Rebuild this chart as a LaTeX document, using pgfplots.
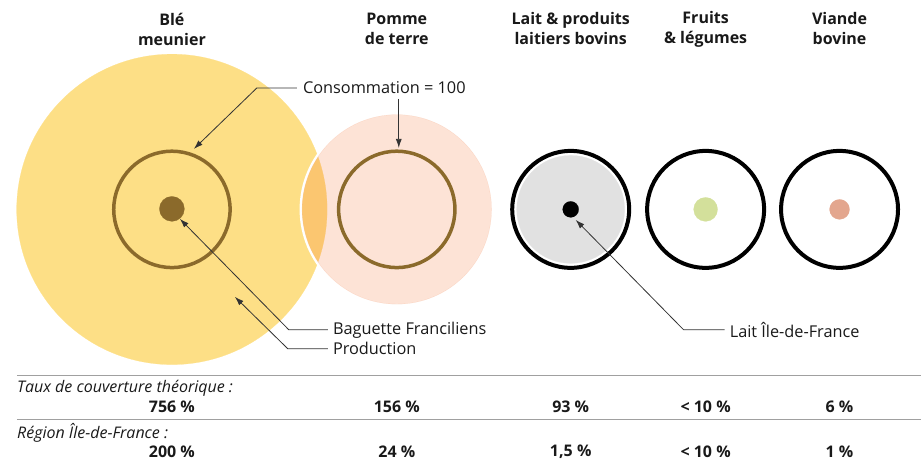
\documentclass[border=0pt]{standalone}
\usepackage{pgfplots}
\pgfplotsset{compat=1.18}
\usepackage{fontspec}
\setmainfont{Open Sans}
\usetikzlibrary{arrows.meta}
\definecolor{ble}{HTML}{FDDF86}
\definecolor{pdt}{HTML}{FDE3D6}
\definecolor{brun}{HTML}{8B6A2B}
\definecolor{vert}{HTML}{D3E09B}
\definecolor{saumon}{HTML}{E3A68E}
\definecolor{gris}{HTML}{E1E1E1}
\definecolor{filet}{HTML}{A0A0A0}
\definecolor{fleche}{HTML}{333333}
\begin{document}
\begin{tikzpicture}
\begin{axis}[
  x=1pt, y=1pt,
  xmin=0, xmax=921, ymin=0, ymax=461, y dir=reverse,
  hide axis, clip=false, set layers,
]
% invisible frame
\addplot[draw=none, mark=none] coordinates {(0,0) (921,461)};
% production discs
\addplot[only marks, mark=*, mark size=155.3, line width=0.2pt, mark options={fill=ble, draw=ble}] coordinates {(172,209.5)};
\addplot[only marks, mark=o, mark size=96, mark options={draw=white, line width=2.5pt}] coordinates {(397,209.5)};
\addplot[only marks, mark=*, mark size=94.8, line width=0.2pt, blend mode=multiply, mark options={fill=pdt, draw=pdt, blend mode=multiply}] coordinates {(397,209.5)};
\addplot[only marks, mark=*, mark size=54, line width=0.2pt, mark options={fill=gris, draw=gris}] coordinates {(571,209.5)};
% consumption = 100 rings
\addplot[only marks, mark=o, mark size=58.2, mark options={draw=brun, line width=3.5pt}] coordinates {(172,209.5) (397,209.5)};
\addplot[only marks, mark=o, mark size=58.5, mark options={draw=black, line width=4pt}] coordinates {(571,209.5) (706,209.5) (840,209.5)};
% Ile-de-France dots
\addplot[only marks, mark=*, mark size=12.5, line width=0.2pt, mark options={fill=brun, draw=brun}] coordinates {(172,209)};
\addplot[only marks, mark=*, mark size=8, line width=0.2pt, mark options={fill=black, draw=black}] coordinates {(571,209.5)};
\addplot[only marks, mark=*, mark size=12, line width=0.2pt, mark options={fill=vert, draw=vert}] coordinates {(706,209.5)};
\addplot[only marks, mark=*, mark size=10, line width=0.2pt, mark options={fill=saumon, draw=saumon}] coordinates {(840,209.5)};
% leader lines (on top of the discs)
\addplot[on layer=axis foreground, fleche, line width=0.8pt, -{Latex[length=9pt,width=6pt]}] coordinates {(297,88) (257,88) (194,149)};
\addplot[on layer=axis foreground, fleche, line width=0.8pt, -{Latex[length=9pt,width=6pt]}] coordinates {(399,99) (399,148)};
\addplot[on layer=axis foreground, fleche, line width=0.8pt, -{Latex[length=9pt,width=6pt]}] coordinates {(328,330) (289,330) (180,219)};
\addplot[on layer=axis foreground, fleche, line width=0.8pt, -{Latex[length=9pt,width=6pt]}] coordinates {(328,349) (288,349) (235,297)};
\addplot[on layer=axis foreground, fleche, line width=0.8pt, -{Latex[length=9pt,width=6pt]}] coordinates {(725,330) (684,330) (576,220)};
% table rules
\addplot[filet, line width=1pt] coordinates {(17,376) (921,376)};
\addplot[filet, line width=1pt] coordinates {(17,420) (921,420)};
% titles
\begin{scope}[every node/.style={align=center, font=\bfseries\fontsize{16}{20}\selectfont, text=black!90}]
\node at (axis cs:172,29) {Blé\\meunier};
\node at (axis cs:397,29) {Pomme\\de terre};
\node at (axis cs:571,29) {Lait \& produits\\laitiers bovins};
\node at (axis cs:706,29) {Fruits\\\& légumes};
\node at (axis cs:840,29) {Viande\\bovine};
\end{scope}
% annotation labels
\begin{scope}[every node/.style={anchor=west, font=\fontsize{16.3}{18}\selectfont, text=black!90, inner sep=0pt}]
\node at (axis cs:303,88) {Consommation = 100};
\node at (axis cs:333,330) {Baguette Franciliens};
\node at (axis cs:333,349) {Production};
\node at (axis cs:730,330) {Lait Île-de-France};
\end{scope}
% table text
\begin{scope}[every node/.style={font=\itshape\fontsize{16}{18}\selectfont, text=black!90, inner sep=0pt}]
\node[anchor=west] at (axis cs:17,388) {Taux de couverture théorique :};
\node[anchor=west] at (axis cs:17,433) {Région Île-de-France :};
\end{scope}
\begin{scope}[every node/.style={font=\bfseries\fontsize{16}{18}\selectfont, text=black!90, inner sep=0pt}]
\node at (axis cs:172,407) {756 \%};
\node at (axis cs:397,407) {156 \%};
\node at (axis cs:571,407) {93 \%};
\node at (axis cs:706,407) {< 10 \%};
\node at (axis cs:840,407) {6 \%};
\node at (axis cs:172,452) {200 \%};
\node at (axis cs:397,452) {24 \%};
\node at (axis cs:571,452) {1,5 \%};
\node at (axis cs:706,452) {< 10 \%};
\node at (axis cs:840,452) {1 \%};
\end{scope}
\end{axis}
\end{tikzpicture}
\end{document}
